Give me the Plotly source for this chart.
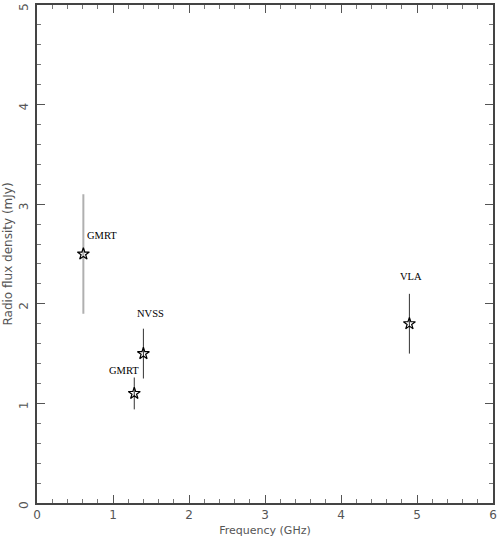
import plotly.graph_objects as go

# measured points
freq_ghz = [0.61, 1.28, 1.40, 4.90]
flux_mjy = [2.5, 1.1, 1.5, 1.8]
flux_err = [0.6, 0.16, 0.25, 0.3]
point_names = ["GMRT", "GMRT", "NVSS", "VLA"]

# where the name labels sit (data coords)
label_x = [0.86, 1.14, 1.49, 4.92]
label_y = [2.69, 1.33, 1.90, 2.27]

fig = go.Figure()

# first GMRT point has a thicker grey bar
fig.add_trace(
    go.Scatter(
        x=freq_ghz[:1],
        y=flux_mjy[:1],
        mode="markers",
        marker=dict(symbol="star-open", size=9, color="black", line=dict(width=1.2)),
        error_y=dict(type="data", array=flux_err[:1], width=0, thickness=2, color="#b0b0b0"),
        showlegend=False,
    )
)
fig.add_trace(
    go.Scatter(
        x=freq_ghz[1:],
        y=flux_mjy[1:],
        mode="markers",
        marker=dict(symbol="star-open", size=9, color="black", line=dict(width=1.2)),
        error_y=dict(type="data", array=flux_err[1:], width=0, thickness=1, color="#333333"),
        showlegend=False,
    )
)

for name, lx, ly in zip(point_names, label_x, label_y):
    fig.add_annotation(
        x=lx, y=ly, text=name, showarrow=False,
        font=dict(family="Liberation Serif", size=10.5, color="black"),
    )

axis_common = dict(
    showgrid=False,
    zeroline=False,
    showline=True,
    linecolor="#444444",
    linewidth=1.5,
    mirror="allticks",
    ticks="inside",
    ticklen=8,
    tickwidth=1,
    tickcolor="#555555",
    dtick=1,
    automargin=False,
    ticklabeloverflow="allow",
    minor=dict(ticks="inside", ticklen=4, dtick=0.2, tickcolor="#777777", tickwidth=1),
    tickfont=dict(family="DejaVu Sans", size=12, color="#555555"),
)

fig.update_xaxes(
    range=[0, 6],
    title=dict(text="Frequency (GHz)", font=dict(family="DejaVu Sans", size=11, color="#555555"), standoff=5),
    **axis_common,
)
fig.update_yaxes(
    range=[0, 5],
    tickangle=-89,
    ticklabelstandoff=11,
    title=dict(text="Radio flux density (mJy)", font=dict(family="DejaVu Sans", size=12, color="#555555"), standoff=2),
    **axis_common,
)

fig.update_layout(
    width=497,
    height=546,
    margin=dict(l=37, r=4, t=5, b=43),
    plot_bgcolor="white",
    paper_bgcolor="white",
)

# page has a default body margin; drop it so the figure fills the window
fig.write_html(
    "out.html",
    config={"displayModeBar": False},
    post_script="document.body.style.margin='0px';",
)
